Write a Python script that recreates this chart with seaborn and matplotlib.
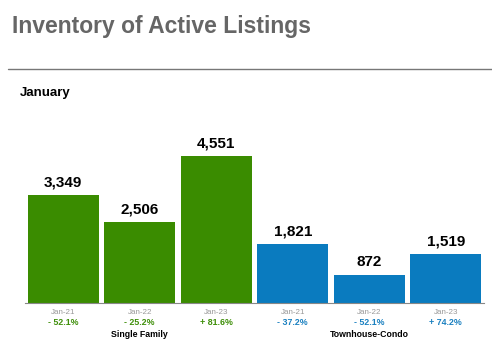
import matplotlib
matplotlib.use("Agg")
import matplotlib.pyplot as plt
from matplotlib.lines import Line2D
from matplotlib.ticker import FixedLocator
import seaborn as sns
import pandas as pd

# ---- data ----
groups = ["Single Family", "Single Family", "Single Family",
          "Townhouse-Condo", "Townhouse-Condo", "Townhouse-Condo"]
periods = ["Jan-21", "Jan-22", "Jan-23", "Jan-21", "Jan-22", "Jan-23"]
values = [3349, 2506, 4551, 1821, 872, 1519]
changes = ["- 52.1%", "- 25.2%", "+ 81.6%", "- 37.2%", "- 52.1%", "+ 74.2%"]
group_names = ["Single Family", "Townhouse-Condo"]
title = "Inventory of Active Listings"
subtitle = "January"

green = "#3a8c00"
blue = "#0a7bbf"
palette = {"Single Family": green, "Townhouse-Condo": blue}
text_colors = {"Single Family": "#3f8f0a", "Townhouse-Condo": "#1a80c0"}

df = pd.DataFrame({
    "key": [f"{g}|{p}" for g, p in zip(groups, periods)],
    "group": groups,
    "period": periods,
    "value": values,
})

sns.set_style("white")
arial = ["Liberation Sans", "DejaVu Sans"]
plt.rcParams["font.family"] = arial

fig = plt.figure(figsize=(4.92, 3.44), dpi=100)
ax = fig.add_axes([25 / 492, 1 - 303 / 344, 459 / 492, 183 / 344])

sns.barplot(data=df, x="key", y="value", hue="group", palette=palette,
            dodge=False, width=0.925, saturation=1, edgecolor="none",
            legend=False, ax=ax)

ax.set_xlim(-0.5, 5.5)
ax.set_ylim(0, 183 / (147.3 / 4551))
ax.set_xlabel("")
ax.set_ylabel("")
ax.set_yticks([])
for s in ["left", "right", "top"]:
    ax.spines[s].set_visible(False)
ax.spines["bottom"].set_color("#888888")
ax.spines["bottom"].set_linewidth(0.8)

ax.set_xticks(range(len(periods)))
ax.set_xticklabels(periods, fontsize=5.8, color="#999999")
ax.tick_params(axis="x", which="major", length=0, pad=4)
ax.xaxis.set_minor_locator(FixedLocator([-0.5, 2.5, 5.5]))
ax.tick_params(axis="x", which="minor", length=3, width=0.8, color="#888888")

for i, (v, g) in enumerate(zip(values, groups)):
    ax.annotate(f"{v:,}", xy=(i, v), xytext=(0, 4), textcoords="offset points",
                ha="center", va="bottom", fontsize=11, fontweight="bold",
                color="black")
    ax.annotate(changes[i], xy=(i, 0), xycoords=("data", "axes fraction"),
                xytext=(0, -10.5), textcoords="offset points",
                ha="center", va="top", fontsize=6.4, fontweight="bold",
                color=text_colors[g])

for j, gname in enumerate(group_names):
    ax.annotate(gname, xy=(j * 3 + 1, 0), xycoords=("data", "axes fraction"),
                xytext=(0, -19.5), textcoords="offset points",
                ha="center", va="top", fontsize=6.3, fontweight="bold",
                color="black")

fig.text(12 / 492, 1 - 26 / 344, title, fontsize=16.5, fontweight="bold",
         color="#666666", ha="left", va="center")
fig.add_artist(Line2D([8 / 492, 1.0], [1 - 69 / 344, 1 - 69 / 344],
                      transform=fig.transFigure, color="#777777", linewidth=1.0))
fig.text(20 / 492, 1 - 93 / 344, subtitle, fontsize=9.5, fontweight="bold",
         color="black", ha="left", va="center")

fig.savefig("out.png", dpi=100, facecolor="white")
